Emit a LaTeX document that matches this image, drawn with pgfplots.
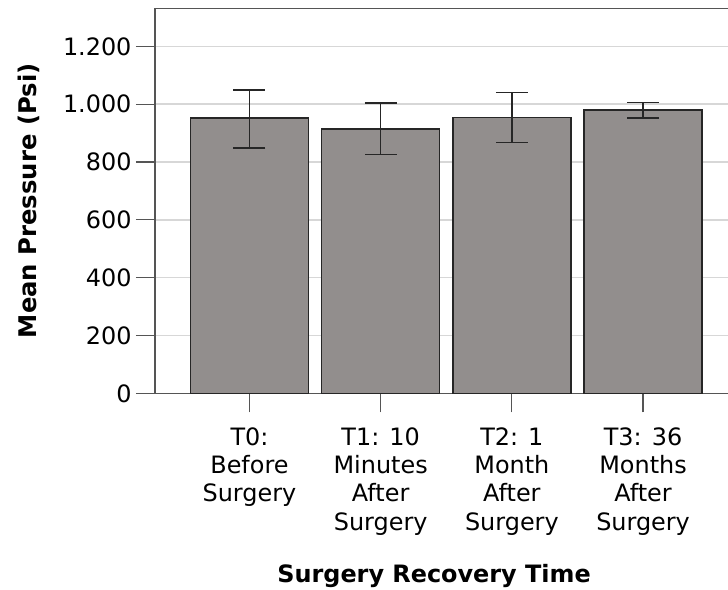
\documentclass[border=0pt]{standalone}
\usepackage{pgfplots}
\pgfplotsset{compat=1.18}
\usepackage{fontspec}
\setmainfont{DejaVu Sans}
\definecolor{barfill}{RGB}{146,142,141}
\definecolor{axgray}{RGB}{85,85,85}
\definecolor{gridgray}{RGB}{215,215,215}
\begin{document}
\begin{tikzpicture}
\begin{axis}[
  scale only axis=true,
  width=590bp, height=385bp,
  xmin=-0.72, xmax=3.777,
  ymin=0, ymax=1332,
  enlargelimits=false,
  ybar, bar width=118bp,
  xtick={0,1,2,3},
  xticklabels={{T0:\\Before\\Surgery},{T1: 10\\Minutes\\After\\Surgery},{T2: 1\\Month\\After\\Surgery},{T3: 36\\Months\\After\\Surgery}},
  ytick={0,200,400,600,800,1000,1200},
  /pgf/number format/.cd, 1000 sep={.}, assume math mode=true, /pgfplots/.cd,
  xtick pos=bottom, ytick pos=left,
  tick align=outside,
  major tick length=19bp,
  tick style={axgray, line width=1.2bp},
  axis line style={axgray, line width=1.2bp},
  ymajorgrids=true,
  major grid style={gridgray, line width=1.6bp},
  axis on top=false,
  xticklabel style={align=center, font=\fontsize{24}{28.3}\selectfont, yshift=-12bp},
  yticklabel style={font=\fontsize{24}{28.3}\selectfont, xshift=-1bp},
  xlabel={Surgery Recovery Time},
  ylabel={Mean Pressure (Psi)},
  xlabel style={font=\fontsize{24}{30}\selectfont\bfseries, at={(axis description cs:0.473,-0.4927)}, anchor=base},
  ylabel style={font=\fontsize{24.4}{30}\selectfont\bfseries, at={(axis description cs:-0.2136,0.5)}, anchor=center},
  error bars/y dir=both,
  error bars/y explicit,
  error bars/error mark options={rotate=90, mark size=16bp, line width=1.3bp, black!85},
  error bars/error bar style={line width=1.3bp, black!85},
]
\addplot[fill=barfill, draw=black!85, line width=1.4bp] coordinates {
  (0,952)  += (0,97) -= (0,103)
  (1,914.5) += (0,90) -= (0,87.5)
  (2,955)  += (0,85) -= (0,87)
  (3,980)  += (0,27) -= (0,28)
};
\end{axis}
\pgfresetboundingbox
\path[use as bounding box] (-155bp,-196.7bp) rectangle (573bp,393.3bp);
\end{tikzpicture}
\end{document}
